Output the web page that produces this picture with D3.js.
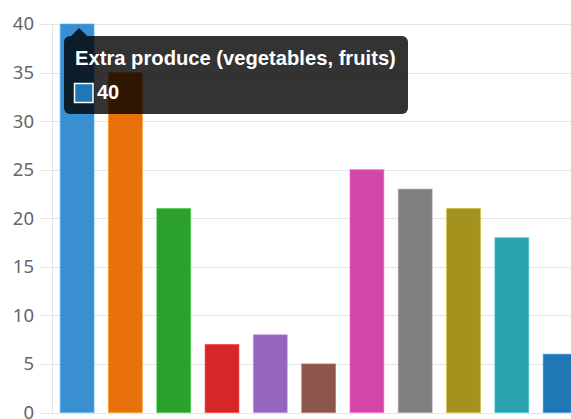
<!DOCTYPE html>
<html>
<head>
<meta charset="utf-8">
<script src="https://cdn.jsdelivr.net/npm/d3@7"></script>
<style>
  html, body { margin: 0; padding: 0; background: #fff; overflow: hidden; }
  svg { display: block; }
</style>
</head>
<body>
<svg id="chart" width="571" height="419"></svg>
<script>
const categories = [
  "Extra produce (vegetables, fruits)",
  "Category 2", "Category 3", "Category 4", "Category 5", "Category 6",
  "Category 7", "Category 8", "Category 9", "Category 10", "Category 11"
];
const values = [40, 35, 21, 7, 8, 5, 25, 23, 21, 18, 6];
const colors = ["#3a8fd0", "#e8710a", "#2ca02c", "#d62728", "#9467bd", "#8c564b",
                "#d146a6", "#7f7f7f", "#a3921e", "#29a2ae", "#1f77b4"];
const yTicks = [0, 5, 10, 15, 20, 25, 30, 35, 40];
const hovered = 0;

(function () {
const svg = d3.select("#chart");
const mLeft = 52, mTop = 24, mBottom = 412.5;
const step = 48.3, pIn = 0.3, pOut = 0.17;
const W = step * (categories.length - pIn + 2 * pOut);

const x = d3.scaleBand().domain(categories)
  .range([mLeft, mLeft + W])
  .paddingInner(pIn).paddingOuter(pOut);
const y = d3.scaleLinear().domain([0, 40]).range([mBottom, mTop]);

const font = "'Noto Sans', 'Open Sans', sans-serif";
const tipFont = "'Liberation Sans', Arial, sans-serif";

// gridlines
svg.append("g").selectAll("line").data(yTicks).join("line")
  .attr("x1", mLeft - 12).attr("x2", 571)
  .attr("y1", d => Math.round(y(d)) + 0.5).attr("y2", d => Math.round(y(d)) + 0.5)
  .attr("stroke", "#e5e5e5").attr("stroke-width", 1);

svg.append("line")
  .attr("x1", mLeft + 0.5).attr("x2", mLeft + 0.5)
  .attr("y1", y(40)).attr("y2", y(0) + 1)
  .attr("stroke", "#e5e5e5");

// tick labels via axis
const g = svg.append("g").attr("transform", `translate(${mLeft - 12},0)`);
g.call(d3.axisLeft(y).tickValues(yTicks).tickSize(0).tickPadding(6));
g.select(".domain").remove();
g.selectAll(".tick text").attr("font-family", font).attr("font-size", 18.5).attr("fill", "#666");

// bars
svg.append("g").selectAll("rect").data(values).join("rect")
  .attr("x", (d, i) => x(categories[i]))
  .attr("width", x.bandwidth())
  .attr("y", d => y(d))
  .attr("height", d => y(0) - y(d))
  .attr("fill", (d, i) => colors[i])
  .attr("stroke", (d, i) => d3.color(colors[i]).brighter(0.6))
  .attr("stroke-opacity", 0.6)
  .attr("stroke-width", 1);

// tooltip
const cx = x(categories[hovered]) + x.bandwidth() / 2 + 2;
const tipY = y(values[hovered]) + 4;
const bx = 64, by = 36, bw = 344, bh = 78;
const tip = svg.append("g");
tip.append("rect").attr("x", bx).attr("y", by).attr("width", bw).attr("height", bh)
  .attr("rx", 6).attr("fill", "rgba(0,0,0,0.8)");
tip.append("path")
  .attr("d", `M${cx - 8},${by} L${cx},${tipY} L${cx + 8},${by} Z`)
  .attr("fill", "rgba(0,0,0,0.8)");
tip.append("text").attr("x", 75).attr("y", 65)
  .attr("font-family", tipFont).attr("font-weight", "bold").attr("font-size", 20.2)
  .attr("fill", "#fff").text(categories[hovered]);
tip.append("rect").attr("x", 74.5).attr("y", 83.5).attr("width", 18.5).attr("height", 19)
  .attr("fill", "#1f77b4").attr("stroke", "#fff").attr("stroke-width", 1.5);
tip.append("text").attr("x", 97).attr("y", 98.5)
  .attr("font-family", tipFont).attr("font-weight", "bold").attr("font-size", 20)
  .attr("fill", "#fff").text(values[hovered]);
})();
</script>
</body>
</html>
